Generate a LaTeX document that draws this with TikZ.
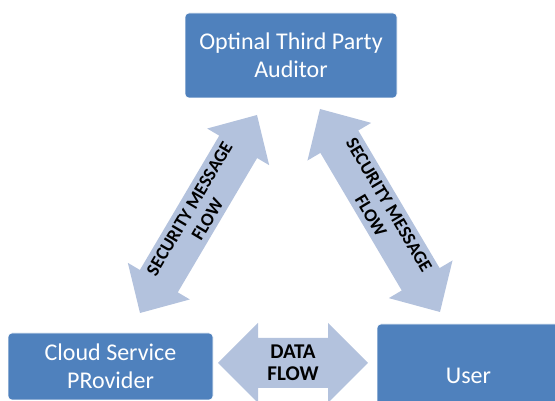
\documentclass[tikz,border=0pt]{standalone}
\usepackage{fontspec}
\setmainfont{Carlito}
\usepackage{xcolor}
\usepackage{tikz}
\usetikzlibrary{positioning,calc}

\definecolor{boxblue}{RGB}{79,129,189}
\definecolor{flowblue}{RGB}{179,194,221}

% double headed block arrow between two points
% #1 from, #2 to, #3 shaft half width, #4 head half width, #5 head length
\newcommand{\flowarrow}[5]{%
  \fill[flowblue]
    (#1)
    -- ($(#1)!#5!(#2)!#4!90:(#2)$)
    -- ($(#1)!#5!(#2)!#3!90:(#2)$)
    -- ($(#2)!#5!(#1)!#3!-90:(#1)$)
    -- ($(#2)!#5!(#1)!#4!-90:(#1)$)
    -- (#2)
    -- ($(#2)!#5!(#1)!#4!90:(#1)$)
    -- ($(#2)!#5!(#1)!#3!90:(#1)$)
    -- ($(#1)!#5!(#2)!#3!-90:(#2)$)
    -- ($(#1)!#5!(#2)!#4!-90:(#2)$)
    -- cycle;}

\begin{document}
\begin{tikzpicture}[x=1pt,y=1pt,
    party/.style={fill=boxblue, draw=white, line width=0.6pt, rounded corners=4pt,
      text=white, align=center, inner sep=0pt,
      font=\fontsize{24}{28}\selectfont},
    flowtext/.style={align=center, inner sep=0pt,
      font=\fontsize{18.5}{21}\selectfont\bfseries}]
    \useasboundingbox (0,0) rectangle (555,401);

    % the three parties
    \node[party, minimum width=212, minimum height=85] (tpa) at (291,345.5)
        {Optinal Third Party\\Auditor};
    \node[party, minimum width=205, minimum height=67] (csp) at (110.5,34.5)
        {Cloud Service\\PRovider};
    \node[party, minimum width=183, minimum height=104] (user) at (468.5,25)
        {User};

    % arrow tips
    \coordinate (sm1a) at (140,88);
    \coordinate (sm1b) at (257,286);
    \coordinate (sm2a) at (320,292);
    \coordinate (sm2b) at (440,89);
    \coordinate (dfa) at (218,38);
    \coordinate (dfb) at (368,38);

    \flowarrow{sm1a}{sm1b}{22pt}{36pt}{37pt}
    \flowarrow{sm2a}{sm2b}{22pt}{37pt}{38pt}
    \flowarrow{dfa}{dfb}{25pt}{40pt}{40pt}

    \node[flowtext, rotate=59.4] (sm1) at ($(sm1a)!0.5!(sm1b)$) {SECURITY MESSAGE\\FLOW};
    \node[flowtext, rotate=-59.4] (sm2) at ($(sm2a)!0.5!(sm2b)$) {SECURITY MESSAGE\\FLOW};
    \node[flowtext, font=\fontsize{21}{22}\selectfont\bfseries] (df)
        at ($(dfa)!0.5!(dfb)$) {DATA\\FLOW};
\end{tikzpicture}
\end{document}
